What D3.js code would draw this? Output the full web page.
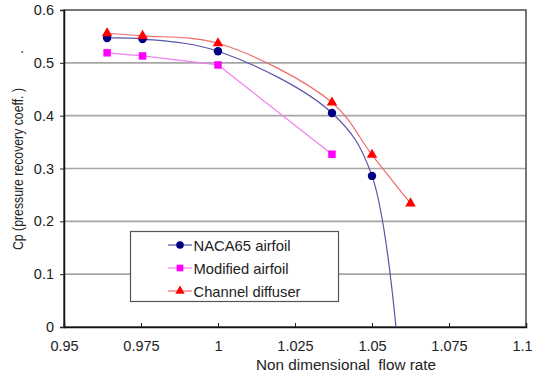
<!DOCTYPE html>
<html>
<head>
<meta charset="utf-8">
<script src="https://cdn.jsdelivr.net/npm/d3@7"></script>
<style>
  html, body { margin: 0; padding: 0; background: #fff; }
  svg { display: block; font-family: "Liberation Sans", Arial, sans-serif; }
</style>
</head>
<body>
<svg id="chart" width="535" height="378"></svg>
<script>
// Flow rate stations (non dimensional)
const flowRate = [0.964, 0.9755, 1.0, 1.037, 1.05, 1.0625];
// Pressure recovery coefficient per configuration
const naca65 = [0.547, 0.545, 0.522, 0.405, 0.286, -0.36];
const modified = [0.519, 0.513, 0.496, 0.327];
const channel = [0.556, 0.551, 0.537, 0.425, 0.326, 0.234];

const seriesNames = ["NACA65 airfoil", "Modified airfoil", "Channel diffuser"];
const xTicks = [0.95, 0.975, 1, 1.025, 1.05, 1.075, 1.1];
const yTicks = [0, 0.1, 0.2, 0.3, 0.4, 0.5, 0.6];

const svg = d3.select("#chart");
const plotLeft = 64, plotRight = 526, plotTop = 10, plotBottom = 327;

const x = d3.scaleLinear().domain([0.95, 1.1]).range([plotLeft, plotRight]);
const y = d3.scaleLinear().domain([0, 0.6]).range([plotBottom, plotTop]);

// plot area clip
svg.append("defs").append("clipPath").attr("id", "plotClip")
  .append("rect").attr("x", plotLeft).attr("y", plotTop)
  .attr("width", plotRight - plotLeft).attr("height", plotBottom - plotTop);

// horizontal gridlines
svg.append("g").selectAll("line")
  .data(yTicks.filter(d => d > 0 && d < 0.6))
  .join("line")
  .attr("x1", plotLeft).attr("x2", plotRight)
  .attr("y1", d => y(d)).attr("y2", d => y(d))
  .attr("stroke", "#a6a6a6").attr("stroke-width", 1.6);

// frame
svg.append("rect").attr("x", plotLeft).attr("y", plotTop)
  .attr("width", plotRight - plotLeft).attr("height", plotBottom - plotTop)
  .attr("fill", "none").attr("stroke", "#4a4a4a").attr("stroke-width", 1.5);

const tickFont = g => g.selectAll(".tick text")
  .attr("font-size", 14.5).attr("fill", "#222")
  .attr("font-family", "'Liberation Sans', Arial, sans-serif");

// y axis
const yAxis = d3.axisLeft(y).tickValues(yTicks).tickSize(4).tickPadding(6)
  .tickFormat(d => d === 0 ? "0" : d3.format(".1f")(d));
const gy = svg.append("g").attr("transform", `translate(${plotLeft},0)`).call(yAxis);
gy.select(".domain").attr("stroke", "#111").attr("stroke-width", 1.5);
gy.selectAll(".tick line").attr("stroke", "#222");
gy.call(tickFont);

// x axis (ticks point inward)
const xAxis = d3.axisBottom(x).tickValues(xTicks).tickSize(-4).tickPadding(14)
  .tickFormat(d => String(+d.toFixed(3)));
const gx = svg.append("g").attr("transform", `translate(0,${plotBottom})`).call(xAxis);
gx.select(".domain").attr("stroke", "#111").attr("stroke-width", 1.5);
gx.selectAll(".tick line").attr("stroke", "#222");
gx.call(tickFont);
// keep the last label inside the canvas
gx.selectAll(".tick text").filter(d => d === 1.1).attr("dx", -4);

// axis titles
svg.append("text")
  .attr("x", 346).attr("y", 370).attr("text-anchor", "middle")
  .attr("font-size", 14).attr("fill", "#222")
  .style("white-space", "pre")
  .attr("textLength", 180).attr("lengthAdjust", "spacingAndGlyphs")
  .text("Non dimensional  flow rate");

svg.append("text")
  .attr("transform", "translate(23,169) rotate(-90)")
  .attr("text-anchor", "middle")
  .attr("font-size", 14).attr("fill", "#222")
  .attr("textLength", 162).attr("lengthAdjust", "spacingAndGlyphs")
  .text("Cp (pressure recovery coeff. )");
svg.append("text")
  .attr("transform", "translate(23,52) rotate(-90)")
  .attr("text-anchor", "middle")
  .attr("font-size", 14).attr("fill", "#222")
  .text(".");

// series definitions
const series = [
  { name: seriesNames[0], values: naca65, line: "#5656a8", mark: "#000080",
    symbol: d3.symbolCircle, size: 56, curve: d3.curveCatmullRom.alpha(0.5) },
  { name: seriesNames[1], values: modified, line: "#f080f0", mark: "#ff00ff",
    symbol: d3.symbolSquare, size: 56, curve: d3.curveLinear },
  { name: seriesNames[2], values: channel, line: "#f06a6a", mark: "#ff0000",
    symbol: d3.symbolTriangle, size: 48, curve: d3.curveCatmullRom.alpha(0.5) }
];

const plot = svg.append("g").attr("clip-path", "url(#plotClip)");

series.forEach(s => {
  const pts = s.values.map((v, i) => [flowRate[i], v]);
  plot.append("path")
    .attr("d", d3.line().x(d => x(d[0])).y(d => y(d[1])).curve(s.curve)(pts))
    .attr("fill", "none").attr("stroke", s.line).attr("stroke-width", 1.2);
});

// markers drawn above all lines
[series[1], series[0], series[2]].forEach(s => {
  const pts = s.values.map((v, i) => [flowRate[i], v]).filter(d => d[1] >= 0);
  plot.append("g").selectAll("path").data(pts).join("path")
    .attr("transform", d => `translate(${x(d[0])},${y(d[1])})`)
    .attr("d", d3.symbol().type(s.symbol).size(s.size))
    .attr("fill", s.mark);
});

// legend
const legendWidths = [97, 95, 107];
const legend = svg.append("g");
legend.append("rect").attr("x", 130.5).attr("y", 231.5)
  .attr("width", 208).attr("height", 70)
  .attr("fill", "#fff").attr("stroke", "#555").attr("stroke-width", 1.2);

series.forEach((s, i) => {
  const cy = 245 + i * 23;
  legend.append("line").attr("x1", 168).attr("x2", 192)
    .attr("y1", cy).attr("y2", cy)
    .attr("stroke", s.line).attr("stroke-width", 1.2);
  legend.append("path")
    .attr("transform", `translate(180,${cy})`)
    .attr("d", d3.symbol().type(s.symbol).size(s.size * 0.8))
    .attr("fill", s.mark);
  legend.append("text").attr("x", 193.5).attr("y", cy + 5.5)
    .attr("font-size", 15).attr("fill", "#222")
    .attr("textLength", legendWidths[i]).attr("lengthAdjust", "spacingAndGlyphs")
    .text(s.name);
});
</script>
</body>
</html>
